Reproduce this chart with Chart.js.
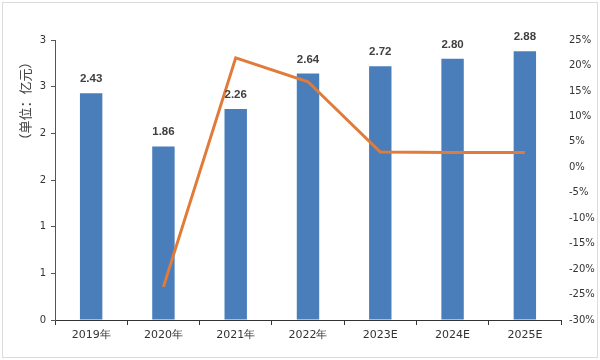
<!DOCTYPE html>
<html>
<head>
<meta charset="utf-8">
<script src="https://cdn.jsdelivr.net/npm/chart.js@4"></script>
<style>
  html, body { margin: 0; padding: 0; background: #ffffff; }
  #wrap { width: 600px; height: 360px; position: relative; }
</style>
</head>
<body>
<div id="wrap"><canvas id="c" width="600" height="360"></canvas></div>
<script>
const categories = ['2019年', '2020年', '2021年', '2022年', '2023E', '2024E', '2025E'];
const marketSize = [2.43, 1.86, 2.26, 2.64, 2.72, 2.80, 2.88];
const growthRate = [null, -23.5, 21.5, 16.8, 3.0, 2.9, 2.9];
const leftTickLabels = ['0', '1', '1', '2', '2', '3', '3'];
const yTitle = '（单位：亿元）';

const barLabels = {
  id: 'barLabels',
  afterDatasetsDraw(chart) {
    const ctx = chart.ctx;
    const meta = chart.getDatasetMeta(1);
    ctx.save();
    ctx.font = 'bold 11.5px "Liberation Sans", Arial, sans-serif';
    ctx.fillStyle = '#404040';
    ctx.textAlign = 'center';
    ctx.textBaseline = 'alphabetic';
    meta.data.forEach((bar, i) => {
      ctx.fillText(marketSize[i].toFixed(2), bar.x, bar.y - 11);
    });
    ctx.restore();
  }
};

const extras = {
  id: 'extras',
  beforeDraw(chart) {
    const ctx = chart.ctx;
    ctx.save();
    ctx.fillStyle = '#ffffff';
    ctx.fillRect(0, 0, chart.width, chart.height);
    ctx.strokeStyle = '#dcdcdc';
    ctx.lineWidth = 1;
    ctx.strokeRect(2.5, 2.5, chart.width - 5, chart.height - 5);
    ctx.restore();
  },
  afterDraw(chart) {
    const ctx = chart.ctx;
    ctx.save();
    ctx.translate(25, 101);
    ctx.rotate(-Math.PI / 2);
    ctx.font = '13px "Noto Sans CJK SC", sans-serif';
    ctx.fillStyle = '#404040';
    ctx.textAlign = 'center';
    ctx.textBaseline = 'middle';
    ctx.fillText(yTitle, 0, 0);
    ctx.restore();
  }
};

new Chart(document.getElementById('c'), {
  data: {
    labels: categories,
    datasets: [
      {
        type: 'line',
        data: growthRate,
        yAxisID: 'y1',
        borderColor: '#e07b39',
        backgroundColor: '#e07b39',
        borderWidth: 3,
        pointRadius: 0,
        tension: 0,
        order: 0
      },
      {
        type: 'bar',
        data: marketSize,
        yAxisID: 'y',
        backgroundColor: '#4a7ebb',
        barPercentage: 0.31,
        categoryPercentage: 1.0,
        order: 1
      }
    ]
  },
  options: {
    responsive: false,
    animation: false,
    devicePixelRatio: 1,
    layout: { padding: { top: 40, bottom: 0, left: 0, right: 0 } },
    plugins: {
      legend: { display: false },
      tooltip: { enabled: false },
      title: { display: false }
    },
    scales: {
      x: {
        offset: true,
        afterFit(s) { s.height = 40; },
        grid: {
          offset: true,
          drawOnChartArea: false,
          drawTicks: true,
          tickLength: 5,
          color: '#333333'
        },
        border: { display: true, color: '#333333', width: 1 },
        ticks: {
          color: '#333333',
          font: { family: '"DejaVu Sans", sans-serif', size: 11 },
          padding: 4,
          maxRotation: 0
        }
      },
      y: {
        position: 'left',
        min: 0,
        max: 3,
        afterFit(s) { s.width = 55; },
        afterBuildTicks(s) {
          s.ticks = [0, 0.5, 1, 1.5, 2, 2.5, 3].map(v => ({ value: v }));
        },
        grid: {
          drawOnChartArea: false,
          drawTicks: true,
          tickLength: 4,
          color: '#555555'
        },
        border: { display: true, color: '#555555', width: 1 },
        ticks: {
          color: '#333333',
          font: { family: '"DejaVu Sans", sans-serif', size: 10 },
          padding: 5,
          callback: (v, i) => leftTickLabels[i]
        }
      },
      y1: {
        position: 'right',
        min: -30,
        max: 25,
        afterFit(s) { s.width = 39; },
        grid: { display: false, drawOnChartArea: false, drawTicks: false },
        border: { display: false },
        ticks: {
          stepSize: 5,
          color: '#333333',
          font: { family: '"DejaVu Sans", sans-serif', size: 10 },
          padding: 8,
          callback: v => v + '%'
        }
      }
    }
  },
  plugins: [extras, barLabels]
});
</script>
</body>
</html>
